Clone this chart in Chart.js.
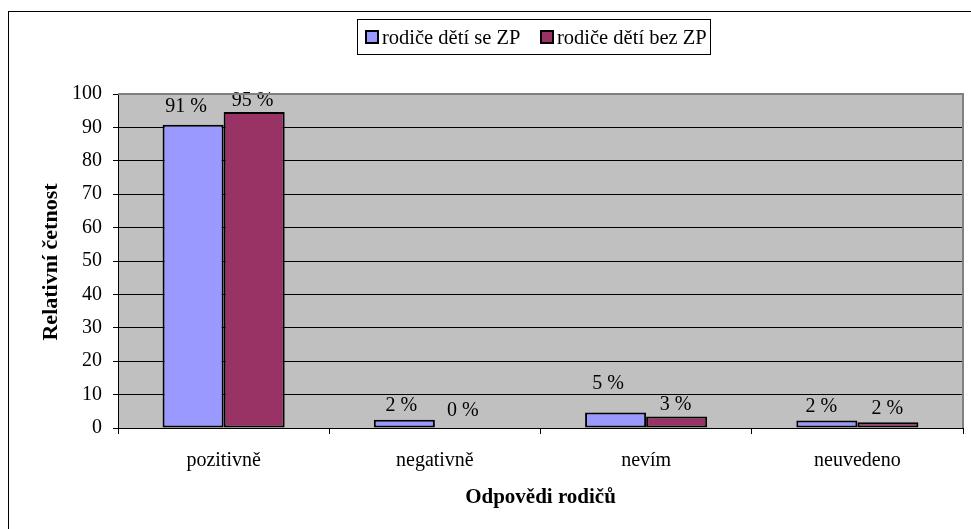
<!DOCTYPE html>
<html><head><meta charset="utf-8">
<script src="https://cdn.jsdelivr.net/npm/chart.js@4.4.1/dist/chart.umd.min.js"></script>
<style>html,body{margin:0;padding:0;background:#fff}canvas{display:block}</style>
</head><body>
<canvas id="c" width="971" height="529"></canvas>
<script>
const categories = ['pozitivně', 'negativně', 'nevím', 'neuvedeno'];
const seriesNames = ['rodiče dětí se ZP', 'rodiče dětí bez ZP'];
const withZP = [90.8, 2.45, 4.65, 2.25];
const withoutZP = [94.6, 0, 3.45, 1.75];
const yTickValues = [0, 10, 20, 30, 40, 50, 60, 70, 80, 90, 100];
const yTitle = 'Relativní četnost';
const xTitle = 'Odpovědi rodičů';

const colors = ['#9999FF', '#993366'];
const FONT = '"Liberation Serif", "Times New Roman", serif';
// per-label nudges (dx, dy above bar top) mimicking the original label placement
const labelOffsets = [
  [[-7, 18], [-3, 14], [-7.5, 29], [-5.5, 14]],
  [[-1.5, 11], [-2.5, 17.5], [-1, 12], [-0.5, 13]]
];

const decor = {
  id: 'decor',
  beforeDraw(chart) {
    const ctx = chart.ctx, a = chart.chartArea;
    ctx.save();
    ctx.fillStyle = '#fff';
    ctx.fillRect(0, 0, chart.width, chart.height);
    ctx.strokeStyle = '#000';
    ctx.lineWidth = 1;
    ctx.strokeRect(8.5, 11.5, 1200, 1200);
    ctx.fillStyle = '#C0C0C0';
    ctx.fillRect(a.left, a.top, a.right - a.left, a.bottom - a.top);
    ctx.restore();
  },
  afterDatasetsDraw(chart) {
    const ctx = chart.ctx;
    ctx.save();
    ctx.font = '20px ' + FONT;
    ctx.fillStyle = '#000';
    ctx.textAlign = 'center';
    ctx.textBaseline = 'middle';
    chart.data.datasets.forEach((ds, di) => {
      const meta = chart.getDatasetMeta(di);
      meta.data.forEach((el, i) => {
        const off = labelOffsets[di][i];
        ctx.fillText(Math.round(ds.data[i]) + ' %', el.x + off[0], el.y - off[1]);
      });
    });
    ctx.restore();
  },
  afterDraw(chart) {
    const ctx = chart.ctx, a = chart.chartArea;
    ctx.save();
    // plot area border (top / right)
    ctx.fillStyle = '#808080';
    ctx.fillRect(a.left, a.top - 1, a.right - a.left + 1, 2);
    ctx.fillRect(a.right - 1, a.top - 1, 2, a.bottom - a.top + 1);
    // axis titles
    ctx.fillStyle = '#000';
    ctx.font = 'bold 21px ' + FONT;
    ctx.textAlign = 'center';
    ctx.textBaseline = 'middle';
    ctx.fillText(xTitle, (a.left + a.right) / 2, 498);
    ctx.save();
    ctx.font = 'bold 22px ' + FONT;
    ctx.translate(51, (a.top + a.bottom) / 2 + 1);
    ctx.rotate(-Math.PI / 2);
    ctx.fillText(yTitle, 0, 0);
    ctx.restore();
    // legend
    ctx.strokeStyle = '#000';
    ctx.lineWidth = 1;
    ctx.strokeRect(357.5, 19.5, 353, 35);
    ctx.font = '20.5px ' + FONT;
    ctx.textAlign = 'left';
    ctx.textBaseline = 'alphabetic';
    const items = [[366, 382], [541, 557]];
    seriesNames.forEach((n, i) => {
      const [mx, tx] = items[i];
      ctx.fillStyle = colors[i];
      ctx.fillRect(mx, 31, 12, 12);
      ctx.lineWidth = 2;
      ctx.strokeStyle = '#000';
      ctx.strokeRect(mx, 31, 12, 12);
      ctx.fillStyle = '#000';
      ctx.fillText(n, tx, 44);
    });
    ctx.restore();
  }
};

Chart.defaults.font.family = FONT;
Chart.defaults.font.size = 20;
Chart.defaults.color = '#000';

new Chart(document.getElementById('c'), {
  type: 'bar',
  data: {
    labels: categories,
    datasets: [
      { label: seriesNames[0], data: withZP, backgroundColor: colors[0] },
      { label: seriesNames[1], data: withoutZP, backgroundColor: colors[1] }
    ]
  },
  options: {
    responsive: false,
    animation: false,
    devicePixelRatio: 1,
    layout: { padding: { left: 0, top: 94, right: 8, bottom: 0 } },
    datasets: {
      bar: {
        borderColor: '#000',
        borderWidth: 2,
        borderSkipped: false,
        categoryPercentage: 0.578,
        barPercentage: 1.0
      }
    },
    plugins: { legend: { display: false }, tooltip: { enabled: false }, title: { display: false } },
    scales: {
      x: {
        afterFit(s) { s.height = 101; },
        grid: { offset: true, drawOnChartArea: false, drawTicks: true, tickLength: 6, color: '#000', lineWidth: 1 },
        border: { display: true, color: '#000', width: 1 },
        ticks: { padding: 15, font: { size: 20 }, color: '#000', maxRotation: 0 }
      },
      y: {
        min: 0, max: 100,
        afterFit(s) { s.width = 118; },
        afterBuildTicks(s) { s.ticks = yTickValues.map(v => ({ value: v })); },
        grid: { color: '#000', lineWidth: 1, drawTicks: true, tickLength: 5 },
        border: { display: true, color: '#000', width: 1 },
        ticks: { padding: 11, font: { size: 20 }, color: '#000' }
      }
    }
  },
  plugins: [decor]
});
</script>
</body></html>
